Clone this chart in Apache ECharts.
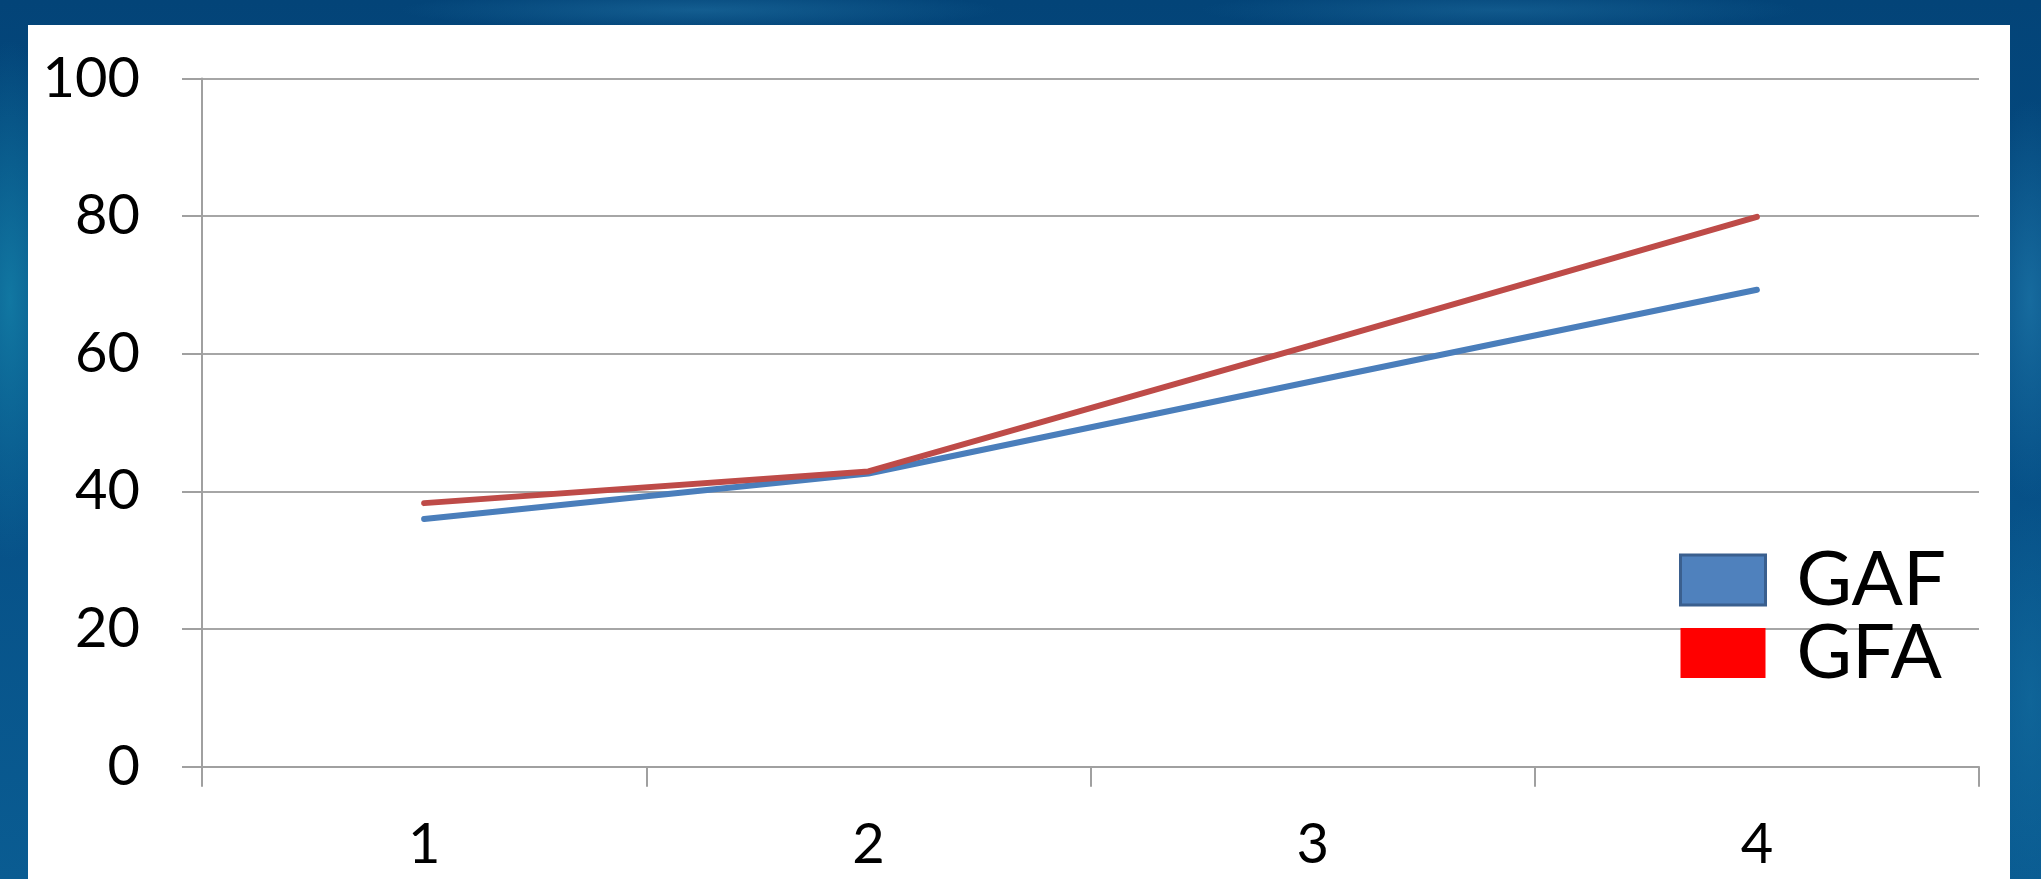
<!DOCTYPE html>
<html>
<head>
<meta charset="utf-8">
<script src="https://cdn.jsdelivr.net/npm/echarts@6/dist/echarts.min.js"></script>
<style>
html,body{margin:0;padding:0;width:2041px;height:879px;overflow:hidden;}
body{
  background:
    radial-gradient(ellipse 60px 260px at 10px 300px, rgba(20,130,170,0.8), rgba(20,130,170,0) 100%),
    radial-gradient(ellipse 50px 200px at 2030px 300px, rgba(30,120,170,0.7), rgba(30,120,170,0) 100%),
    radial-gradient(ellipse 50px 200px at 2030px 700px, rgba(20,110,160,0.6), rgba(20,110,160,0) 100%),
    radial-gradient(ellipse 300px 20px at 700px 10px, rgba(30,110,160,0.6), rgba(30,110,160,0) 100%),
    radial-gradient(ellipse 300px 20px at 1500px 10px, rgba(30,110,160,0.5), rgba(30,110,160,0) 100%),
    linear-gradient(180deg,#034478 0%,#064f86 50%,#0a5c92 100%);
}
#panel{position:absolute;left:28px;top:25px;width:1982px;height:854px;background:#ffffff;}
#chart{position:absolute;left:0;top:0;width:2041px;height:879px;}
</style>
</head>
<body>
<div id="panel"></div>
<div id="chart"></div>
<script>
const categories = ['1', '2', '3', '4'];
const gafValues = [36, 42.6, 56, 69.3];
const gfaValues = [38.3, 42.9, 61.3, 79.9];
const yTicks = { min: 0, max: 100, interval: 20 };

const chart = echarts.init(document.getElementById('chart'), null, { renderer: 'canvas' });
const font = 'Lato, "Open Sans", "Noto Sans", sans-serif';
chart.setOption({
  backgroundColor: 'transparent',
  animation: false,
  grid: { left: 202, right: 62, top: 78.5, bottom: 112.3, containLabel: false },
  legend: {
    orient: 'vertical',
    left: 1674,
    top: 537,
    itemWidth: 85,
    itemHeight: 50,
    itemGap: -3,
    textStyle: { fontFamily: font, fontSize: 76, color: '#000', padding: [0, 0, 0, 26] },
    data: [
      { name: 'GAF', icon: 'rect', itemStyle: { color: '#4f81bd', borderColor: '#3a5f8e', borderWidth: 3 } },
      { name: 'GFA', icon: 'rect', itemStyle: { color: '#ff0000', borderWidth: 0 } }
    ]
  },
  xAxis: {
    type: 'category',
    data: categories,
    boundaryGap: true,
    axisLine: { show: true, lineStyle: { color: '#a0a0a0', width: 2 } },
    axisTick: { show: true, length: 20, alignWithLabel: false, lineStyle: { color: '#a0a0a0', width: 2 } },
    axisLabel: { fontFamily: font, fontSize: 56, color: '#000', margin: 50 },
    splitLine: { show: false }
  },
  yAxis: {
    type: 'value',
    min: yTicks.min,
    max: yTicks.max,
    interval: yTicks.interval,
    axisLine: { show: true, lineStyle: { color: '#a0a0a0', width: 2 } },
    axisTick: { show: true, length: 20, lineStyle: { color: '#a0a0a0', width: 2 } },
    axisLabel: { fontFamily: font, fontSize: 56, color: '#000', margin: 62 },
    splitLine: { show: true, lineStyle: { color: '#a6a6a6', width: 2 } }
  },
  series: [
    { name: 'GAF', type: 'line', data: gafValues, symbol: 'none', smooth: false,
      lineStyle: { color: '#4a7ebb', width: 6, cap: 'round' }, itemStyle: { color: '#4f81bd' } },
    { name: 'GFA', type: 'line', data: gfaValues, symbol: 'none', smooth: false,
      lineStyle: { color: '#be4b48', width: 6, cap: 'round' }, itemStyle: { color: '#ff0000' } }
  ]
});
</script>
</body>
</html>
